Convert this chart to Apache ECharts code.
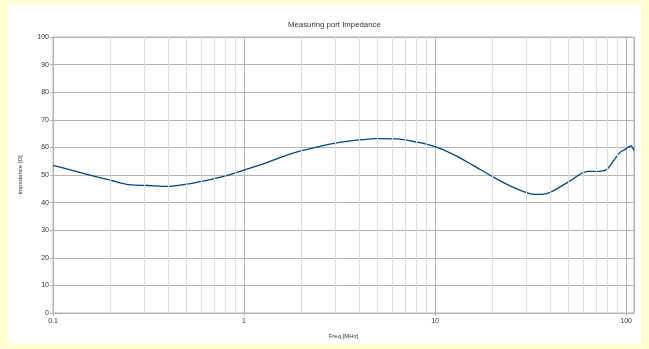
<!DOCTYPE html>
<html><head><meta charset="utf-8">
<script src="https://cdn.jsdelivr.net/npm/echarts@6/dist/echarts.min.js"></script>
<style>html,body{margin:0;padding:0;background:#ffffd0;}#frame{position:absolute;left:8px;top:4px;width:633px;height:340px;background:#fff;}#c{position:absolute;left:0;top:0;width:649px;height:349px;}</style>
</head><body><div id="frame"></div><div id="c"></div>
<script>
const titleText = 'Measuring port Impedance';
const xName = 'Freq [MHz]';
const yName = 'Impedance [Ω]';
const freq = [0.1, 0.126, 0.158, 0.2, 0.25, 0.316, 0.4, 0.5, 0.63, 0.79, 1, 1.26, 1.58, 2, 2.5, 3.16, 4, 5, 6.3, 7.9, 10, 12.6, 15.8, 20, 25, 31.6, 36, 40, 50, 63, 70, 79, 86, 93, 99, 106, 110];
const imp  = [53.5, 51.7, 49.9, 48.1, 46.5, 46.2, 45.9, 46.7, 48.0, 49.6, 51.8, 54.0, 56.6, 58.8, 60.4, 61.8, 62.7, 63.2, 63.1, 62.0, 60.3, 57.3, 53.5, 49.4, 45.9, 43.2, 43.0, 43.7, 47.5, 51.3, 51.3, 52.0, 55.2, 58.2, 59.3, 60.5, 58.9];
const minorX = [0.2,0.3,0.4,0.5,0.6,0.7,0.8,0.9,2,3,4,5,6,7,8,9,20,30,40,50,60,70,80,90];
const xTickLabels = {0.1:'0.1', 1:'1', 10:'10', 100:'100'};

const chart = echarts.init(document.getElementById('c'), null, {renderer:'canvas'});
const font = 'Liberation Sans';
chart.setOption({
  animation:false,
  backgroundColor:'transparent',
  title:{text:titleText, left:283, top:16, textStyle:{fontFamily:font, fontSize:7.8, fontWeight:'normal', color:'#333'}},
  grid:{left:53, right:15, top:37, bottom:36, show:true, borderColor:'#b3b3b3', borderWidth:1, backgroundColor:'transparent'},
  xAxis:{type:'log', logBase:10, min:0.1, max:110,
    name:xName, nameLocation:'middle', nameGap:20,
    nameTextStyle:{fontFamily:font, fontSize:6, color:'#333'},
    axisLine:{show:true, lineStyle:{color:'#b3b3b3'}},
    axisTick:{show:true, length:3, lineStyle:{color:'#b3b3b3'}},
    axisLabel:{fontFamily:font, fontSize:7, color:'#333', margin:5, showMaxLabel:false,
      formatter:function(v){ for (const k in xTickLabels){ if (Math.abs(v-Number(k))<1e-9*Math.max(1,v)) return xTickLabels[k]; } return ''; }},
    splitLine:{show:true, lineStyle:{color:'#b3b3b3', width:1}}
  },
  yAxis:{type:'value', min:0, max:100, interval:10,
    name:yName, nameLocation:'middle', nameGap:30, nameRotate:90,
    nameTextStyle:{fontFamily:font, fontSize:6, color:'#333'},
    axisLine:{show:true, lineStyle:{color:'#b3b3b3'}},
    axisTick:{show:true, length:3, lineStyle:{color:'#b3b3b3'}},
    axisLabel:{fontFamily:font, fontSize:7, color:'#333', margin:4},
    splitLine:{show:true, lineStyle:{color:'#b3b3b3', width:1}}
  },
  series:[
    {type:'line', data:[], silent:true, z:1,
      markLine:{silent:true, symbol:'none', animation:false, label:{show:false},
        lineStyle:{color:'#dddddd', width:1, type:'solid'},
        data: minorX.map(v=>({xAxis:v}))}},
    {type:'line', data: freq.map((f,i)=>[f, imp[i]]), smooth:0.3, showSymbol:false, z:3,
      lineStyle:{color:'#004586', width:1.3}}
  ]
});
</script></body></html>
